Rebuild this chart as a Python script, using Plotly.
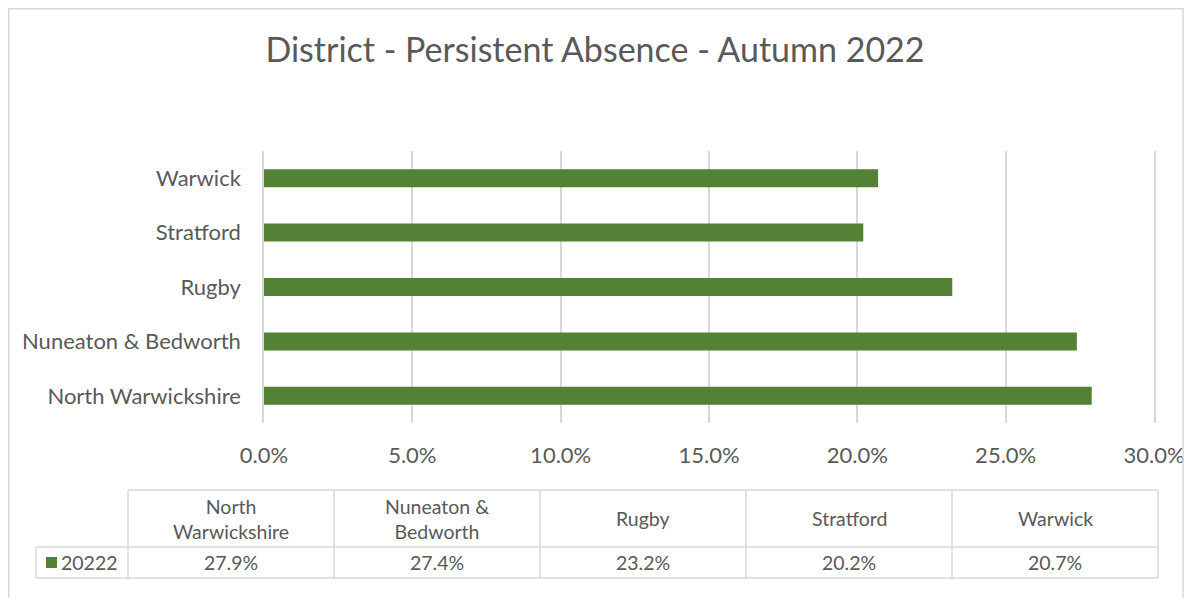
import plotly.graph_objects as go

# Data
districts = ["North Warwickshire", "Nuneaton & Bedworth", "Rugby", "Stratford", "Warwick"]
table_headers = ["North<br>Warwickshire", "Nuneaton &<br>Bedworth", "Rugby", "Stratford", "Warwick"]
absence = [27.9, 27.4, 23.2, 20.2, 20.7]
series_name = "20222"
x_ticks = [0, 5, 10, 15, 20, 25, 30]
x_ticktext = ["0.0%", "5.0%", "10.0%", "15.0%", "20.0%", "25.0%", "30.0%"]

# the page body has an 8px margin, so work in window pixels and shift by it
OFF = 8
W, H = 1192 - 2 * OFF, 606 - 2 * OFF
L, R, T, B = 264, 1154, 151, 423   # plot area, window pixels
GREEN = "#538135"
TEXT = "#595959"
GRID = "#d9d9d9"
FONT = "Lato"


def px_x(p):
    return (p - L) / (R - L)


def px_y(p):
    return (B - p) / (B - T)


fig = go.Figure()
fig.add_trace(go.Bar(
    y=districts,
    x=absence,
    orientation="h",
    marker=dict(color=GREEN, line=dict(width=0)),
    name=series_name,
    showlegend=False,
))

fig.update_layout(
    width=W, height=H,
    margin=dict(l=L - OFF, r=W - (R - OFF), t=T - OFF, b=H - (B - OFF)),
    plot_bgcolor="white", paper_bgcolor="white",
    bargap=0.67,
    font=dict(family=FONT, color=TEXT),
    title=dict(
        text="District - Persistent Absence - Autumn 2022",
        font=dict(size=34, color=TEXT, family=FONT),
        x=(595 - OFF) / W, xref="container", xanchor="center",
        y=1 - (50 - OFF) / H, yref="container", yanchor="middle",
    ),
    xaxis=dict(
        range=[0, 30],
        tickvals=x_ticks, ticktext=x_ticktext,
        showgrid=True, gridcolor=GRID, gridwidth=1.5,
        zeroline=False, showline=False,
        tickfont=dict(size=22, color=TEXT),
        ticklabelstandoff=17,
        ticklabeloverflow="allow",
        automargin=False,
    ),
    yaxis=dict(
        showgrid=False, zeroline=False,
        showline=True, mirror=True, linecolor=GRID, linewidth=1.5,
        tickfont=dict(size=22, color=TEXT),
        ticklabelstandoff=17,
        automargin=False,
    ),
)

shapes = []
# outer chart border (left/top edge sit on the figure edge, bottom runs off the page)
shapes.append(dict(type="rect", xref="paper", yref="paper",
                   x0=px_x(OFF + 0.75), x1=px_x(1183), y0=px_y(630), y1=px_y(OFF + 0.75),
                   line=dict(color=GRID, width=1.5), fillcolor="rgba(0,0,0,0)"))

# data table grid
col_edges = [128, 334, 540, 746, 952, 1158]
row_top, row_mid, row_bot = 490, 547, 578
leg_left = 36


def hline(x0, x1, y):
    shapes.append(dict(type="line", xref="paper", yref="paper",
                       x0=px_x(x0), x1=px_x(x1), y0=px_y(y), y1=px_y(y),
                       line=dict(color=GRID, width=1.5)))


def vline(x, y0, y1):
    shapes.append(dict(type="line", xref="paper", yref="paper",
                       x0=px_x(x), x1=px_x(x), y0=px_y(y0), y1=px_y(y1),
                       line=dict(color=GRID, width=1.5)))


hline(col_edges[0], col_edges[-1], row_top)
hline(leg_left, col_edges[-1], row_mid)
hline(leg_left, col_edges[-1], row_bot)
for cx in col_edges:
    vline(cx, row_top, row_bot)
vline(leg_left, row_mid, row_bot)

# legend key square
shapes.append(dict(type="rect", xref="paper", yref="paper",
                   x0=px_x(46), x1=px_x(57), y0=px_y(568), y1=px_y(557),
                   line=dict(width=0), fillcolor=GREEN))

annotations = []
for i, (hdr, val) in enumerate(zip(table_headers, absence)):
    cx = (col_edges[i] + col_edges[i + 1]) / 2
    annotations.append(dict(x=px_x(cx), y=px_y((row_top + row_mid) / 2),
                            xref="paper", yref="paper", text=hdr, showarrow=False,
                            xanchor="center", yanchor="middle",
                            font=dict(size=19.5, color=TEXT, family=FONT)))
    annotations.append(dict(x=px_x(cx), y=px_y((row_mid + row_bot) / 2),
                            xref="paper", yref="paper", text=f"{val:.1f}%", showarrow=False,
                            xanchor="center", yanchor="middle",
                            font=dict(size=19.5, color=TEXT, family=FONT)))
annotations.append(dict(x=px_x(59), y=px_y((row_mid + row_bot) / 2),
                        xref="paper", yref="paper", text=series_name, showarrow=False,
                        xanchor="left", yanchor="middle",
                        font=dict(size=19.5, color=TEXT, family=FONT)))

fig.update_layout(shapes=shapes, annotations=annotations)

fig.write_html("out.html")
